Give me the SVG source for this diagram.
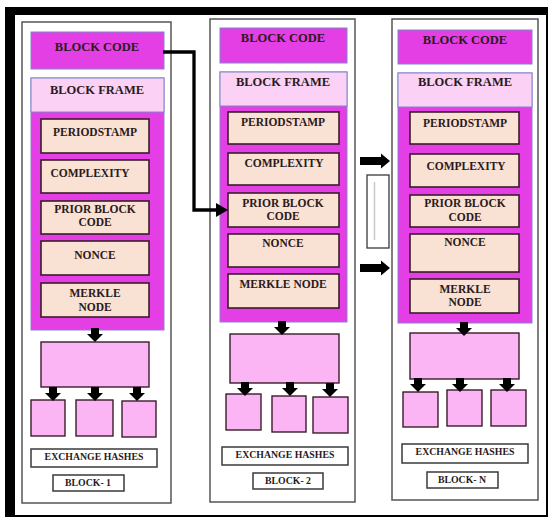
<svg xmlns="http://www.w3.org/2000/svg" xmlns:xlink="http://www.w3.org/1999/xlink" width="550" height="519" viewBox="0 0 550 519">
<defs>
<style>
.col{fill:#ffffff;stroke:#555555;stroke-width:1.5}
.code{fill:#e43fe4;stroke:#7d86c9;stroke-width:1}
.hdr{fill:#fbd2f6;stroke:#7d86c9;stroke-width:1}
.body{fill:#e43fe4;stroke:#8c7fd0;stroke-width:1}
.item{fill:#f9e1d4;stroke:#3a1d2a;stroke-width:1.6}
.hash{fill:#fbb5f4;stroke:#3a1d2a;stroke-width:1.4}
.lbl{fill:#ffffff;stroke:#3a3a3a;stroke-width:1.5}
text{font-family:"Liberation Serif","Times New Roman",serif;font-weight:bold;fill:#2a1a20;text-anchor:middle;dominant-baseline:central}
.t12{font-size:12.5px}
.t11{font-size:11.5px}
.t10{font-size:9.8px}
</style>
<polygon id="dn" points="-4,0 4,0 4,6 8,6 0,14 -8,6 -4,6" fill="#000"/>
<polygon id="rt" points="0,-4 21,-4 21,-7.5 30,0 21,7.5 21,4 0,4" fill="#000"/>
</defs>
<rect width="550" height="519" fill="#ffffff"/>
<g id="frame">
<rect x="6" y="8" width="541" height="508" fill="none" stroke="#000" stroke-width="2"/>
<rect x="5" y="7" width="10" height="510" fill="#000"/>
<rect x="5" y="7" width="543" height="8" fill="#000"/>
</g>

<g id="block1">
<rect class="col" x="22" y="22" width="149" height="481"/>
<g id="b1-code"><rect class="code" x="31" y="32" width="133" height="37"/><text class="t12" x="97" y="47">BLOCK CODE</text></g>
<g id="b1-frame"><rect class="body" x="31" y="78" width="133" height="252"/><rect class="hdr" x="31" y="78" width="133" height="34"/><text class="t12" x="97" y="90">BLOCK FRAME</text></g>
<g id="b1-period"><rect class="item" x="41" y="119" width="108" height="34"/><text class="t11" x="95" y="132">PERIODSTAMP</text></g>
<g id="b1-complex"><rect class="item" x="41" y="160" width="108" height="33"/><text class="t11" x="90" y="173">COMPLEXITY</text></g>
<g id="b1-prior"><rect class="item" x="41" y="201" width="108" height="33"/><text class="t11" x="95" y="209">PRIOR BLOCK</text><text class="t11" x="95" y="222">CODE</text></g>
<g id="b1-nonce"><rect class="item" x="41" y="241" width="108" height="34"/><text class="t11" x="95" y="255">NONCE</text></g>
<g id="b1-merkle"><rect class="item" x="41" y="283" width="108" height="34"/><text class="t11" x="95" y="293">MERKLE</text><text class="t11" x="95" y="307">NODE</text></g>
<g id="b1-hash"><rect class="hash" x="41" y="342" width="108" height="45"/></g>
<g id="b1-h1"><rect class="hash" x="31" y="400" width="34" height="36"/></g>
<g id="b1-h2"><rect class="hash" x="76" y="400" width="37" height="36"/></g>
<g id="b1-h3"><rect class="hash" x="122" y="401" width="34" height="36"/></g>
<g id="b1-ex"><rect class="lbl" x="31" y="449" width="126" height="18"/><text class="t10" x="94" y="456">EXCHANGE HASHES</text></g>
<g id="b1-name"><rect class="lbl" x="53" y="475" width="71" height="16"/><text class="t10" x="88" y="482">BLOCK- 1</text></g>
</g>

<g id="block2">
<rect class="col" x="210" y="19" width="145" height="483"/>
<g id="b2-code"><rect class="code" x="220" y="28" width="127" height="35"/><text class="t12" x="283" y="38">BLOCK CODE</text></g>
<g id="b2-frame"><rect class="body" x="220" y="72" width="127" height="250"/><rect class="hdr" x="220" y="72" width="127" height="34"/><text class="t12" x="283" y="82">BLOCK FRAME</text></g>
<g id="b2-period"><rect class="item" x="228" y="112" width="111" height="32"/><text class="t11" x="283" y="122">PERIODSTAMP</text></g>
<g id="b2-complex"><rect class="item" x="228" y="153" width="111" height="32"/><text class="t11" x="284" y="163">COMPLEXITY</text></g>
<g id="b2-prior"><rect class="item" x="228" y="193" width="111" height="34"/><text class="t11" x="283" y="203">PRIOR BLOCK</text><text class="t11" x="283" y="216">CODE</text></g>
<g id="b2-nonce"><rect class="item" x="228" y="234" width="111" height="33"/><text class="t11" x="283" y="243">NONCE</text></g>
<g id="b2-merkle"><rect class="item" x="228" y="274" width="111" height="34"/><text class="t11" x="283" y="284">MERKLE NODE</text></g>
<g id="b2-hash"><rect class="hash" x="230" y="334" width="109" height="49"/></g>
<g id="b2-h1"><rect class="hash" x="226" y="394" width="35" height="36"/></g>
<g id="b2-h2"><rect class="hash" x="272" y="396" width="34" height="36"/></g>
<g id="b2-h3"><rect class="hash" x="313" y="397" width="35" height="36"/></g>
<g id="b2-ex"><rect class="lbl" x="222" y="447" width="126" height="18"/><text class="t10" x="285" y="454">EXCHANGE HASHES</text></g>
<g id="b2-name"><rect class="lbl" x="253" y="473" width="70" height="16"/><text class="t10" x="288" y="480">BLOCK- 2</text></g>
</g>

<g id="blockN">
<rect class="col" x="392" y="19" width="146" height="481"/>
<g id="bN-code"><rect class="code" x="398" y="30" width="134" height="34"/><text class="t12" x="465" y="40">BLOCK CODE</text></g>
<g id="bN-frame"><rect class="body" x="398" y="73" width="134" height="250"/><rect class="hdr" x="398" y="73" width="134" height="34"/><text class="t12" x="465" y="82">BLOCK FRAME</text></g>
<g id="bN-period"><rect class="item" x="410" y="112" width="109" height="32"/><text class="t11" x="465" y="123">PERIODSTAMP</text></g>
<g id="bN-complex"><rect class="item" x="410" y="154" width="109" height="33"/><text class="t11" x="466" y="166">COMPLEXITY</text></g>
<g id="bN-prior"><rect class="item" x="410" y="195" width="109" height="32"/><text class="t11" x="465" y="203">PRIOR BLOCK</text><text class="t11" x="465" y="217">CODE</text></g>
<g id="bN-nonce"><rect class="item" x="410" y="234" width="109" height="38"/><text class="t11" x="465" y="242">NONCE</text></g>
<g id="bN-merkle"><rect class="item" x="410" y="279" width="109" height="34"/><text class="t11" x="465" y="289">MERKLE</text><text class="t11" x="465" y="302">NODE</text></g>
<g id="bN-hash"><rect class="hash" x="410" y="333" width="109" height="46"/></g>
<g id="bN-h1"><rect class="hash" x="403" y="392" width="35" height="35"/></g>
<g id="bN-h2"><rect class="hash" x="447" y="390" width="35" height="36"/></g>
<g id="bN-h3"><rect class="hash" x="491" y="390" width="35" height="36"/></g>
<g id="bN-ex"><rect class="lbl" x="402" y="444" width="126" height="19"/><text class="t10" x="465" y="451">EXCHANGE HASHES</text></g>
<g id="bN-name"><rect class="lbl" x="427" y="472" width="71" height="16"/><text class="t10" x="462" y="479">BLOCK- N</text></g>
</g>

<g id="gap-box">
<rect x="367" y="175" width="22" height="73" fill="#ffffff" stroke="#3a3a3a" stroke-width="1.3"/>
<line x1="374.5" y1="182" x2="374.5" y2="240" stroke="#c8c8c8" stroke-width="1.5"/>
</g>

<g id="connectors">
<polyline points="163,52 194,52 194,210 220,210" fill="none" stroke="#000" stroke-width="3.3"/>
<polygon points="216,203 228,210 216,217" fill="#000"/>
<use xlink:href="#rt" x="360" y="161"/>
<use xlink:href="#rt" x="360" y="268"/>
<use xlink:href="#dn" x="95" y="328"/>
<use xlink:href="#dn" x="53" y="387"/>
<use xlink:href="#dn" x="95" y="387"/>
<use xlink:href="#dn" x="137" y="387"/>
<use xlink:href="#dn" x="282" y="321"/>
<use xlink:href="#dn" x="245" y="382"/>
<use xlink:href="#dn" x="290" y="382"/>
<use xlink:href="#dn" x="330" y="383"/>
<use xlink:href="#dn" x="464" y="322"/>
<use xlink:href="#dn" x="418" y="378"/>
<use xlink:href="#dn" x="460" y="378"/>
<use xlink:href="#dn" x="507" y="378"/>
</g>
</svg>
